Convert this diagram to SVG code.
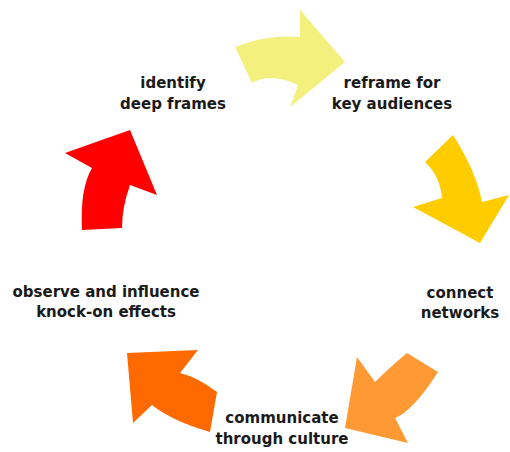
<svg xmlns="http://www.w3.org/2000/svg" width="510" height="452" viewBox="0 0 510 452">
  <style>
    .label { font-family: "DejaVu Sans", Verdana, sans-serif; font-weight: bold; font-size: 15px; fill: #1a1a1a; text-anchor: middle; }
    .arrow { stroke: none; }
  </style>
  <rect width="510" height="452" fill="#ffffff"/>

  <!-- curved block arrows running clockwise between the stages -->
  <g id="connectors">
    <path class="arrow" fill="#f4f07e" d="M235,47 Q266,34 300,37 L300,10 L345,62 L290,107 L298,85 Q271,72 252,83 Z"/>
    <path class="arrow" fill="#ffcc00" d="M425,162 L453,135 Q476,171 482,202 L509,195 L480,243 L413,207 L442,198 Q440,176 425,162 Z"/>
    <path class="arrow" fill="#ff9933" d="M407,353 L438,372 Q413,411 395,418 L408,443 L345,428 L357,357 L375,382 Q389,368 407,353 Z"/>
    <path class="arrow" fill="#ff6a00" d="M127,353 L198,350 L180,373 Q197,377 217,392 L210,432 Q172,421 152,405 L133,423 Z"/>
    <path class="arrow" fill="#ff0000" d="M65,153 L130,130 L157,195 L130,185 Q122,207 122,228 L82,230 Q80,188 92,168 Z"/>
  </g>

  <g id="identify">
    <text class="label" x="173" y="88">identify</text>
    <text class="label" x="173" y="108.5">deep frames</text>
  </g>
  <g id="reframe">
    <text class="label" x="392" y="88">reframe for</text>
    <text class="label" x="392" y="108.5">key audiences</text>
  </g>
  <g id="connect">
    <text class="label" x="460" y="298">connect</text>
    <text class="label" x="460" y="318">networks</text>
  </g>
  <g id="communicate">
    <text class="label" x="282" y="423">communicate</text>
    <text class="label" x="282" y="444">through culture</text>
  </g>
  <g id="observe">
    <text class="label" x="106" y="297">observe and influence</text>
    <text class="label" x="106" y="317">knock-on effects</text>
  </g>
</svg>
